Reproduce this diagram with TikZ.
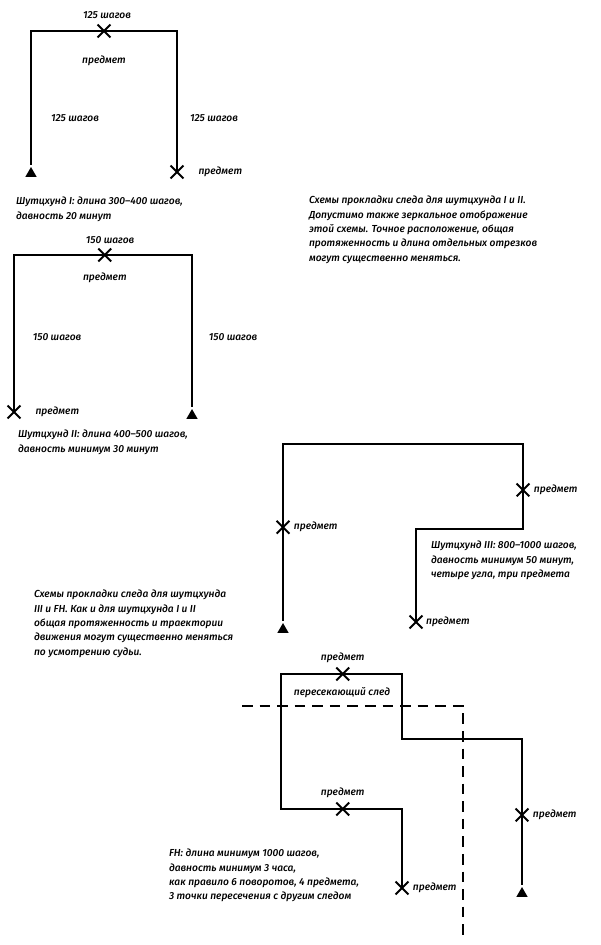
\documentclass[tikz,border=0pt]{standalone}
\usepackage{fontspec}
\setmainfont{Fira Sans}[ItalicFont={Fira Sans Medium Italic}]
\usetikzlibrary{positioning,shapes.misc,shapes.geometric}

\begin{document}
\begin{tikzpicture}[x=0.02cm,y=-0.02cm,line width=1.2pt,
    item mark/.style={cross out,draw,line width=1.1pt,minimum size=6.2pt,inner sep=0pt},
    start mark/.style={regular polygon,regular polygon sides=3,fill,inner sep=0pt,
                       minimum size=7.5pt,anchor=south},
    txt/.style={font=\itshape\fontsize{5.8}{8.2}\selectfont,inner sep=0pt},
    note/.style={txt,align=left,anchor=north west},
    other track/.style={dash pattern=on 6pt off 4pt}]

  \useasboundingbox (0,0) rectangle (600,945);

  \coordinate (1a) at (31,31);
  \coordinate (1b) at (177,31);
  \coordinate (1e) at (177,172);
  \node[start mark] (1s) at (31,178) {};
  \draw (1s) -- (1a) -- node[item mark] (1x) {} (1b) -- (1e) node[item mark] (1y) {};
  \node[txt] (1l1) at (107,15) {125 шагов};
  \node[txt,below=10pt of 1x] (1l2) {предмет};
  \node[txt] (1l3) at (75,118) {125 шагов};
  \node[txt] (1l4) at (214,118) {125 шагов};
  \node[txt,right=8pt of 1y] (1l5) {предмет};
  \node[note] (1c) at (15,196) {Шутцхунд I: длина 300–400 шагов,\\давность 20 минут};

  \coordinate (2a) at (14,255);
  \coordinate (2b) at (192,255);
  \coordinate (2e) at (14,412);
  \node[start mark] (2s) at (192,420) {};
  \draw (2e) node[item mark] (2y) {} -- (2a) -- node[item mark,pos=0.51] (2x) {} (2b) -- (2s);
  \node[txt] (2l1) at (110,240) {150 шагов};
  \node[txt,below=6pt of 2x] (2l2) {предмет};
  \node[txt] (2l3) at (57,337) {150 шагов};
  \node[txt] (2l4) at (233,337) {150 шагов};
  \node[txt,right=8pt of 2y] (2l5) {предмет};
  \node[note] (2c) at (17,429) {Шутцхунд II: длина 400–500 шагов,\\давность минимум 30 минут};

  \node[note] (n1) at (308,195) {Схемы прокладки следа для шутцхунда I и II.\\
    Допустимо также зеркальное отображение\\этой схемы. Точное расположение, общая\\
    протяженность и длина отдельных отрезков\\могут существенно меняться.};

  \coordinate (3a) at (283,444);
  \coordinate (3b) at (523,444);
  \coordinate (3c) at (523,529);
  \coordinate (3d) at (416,529);
  \coordinate (3e) at (416,622);
  \node[start mark] (3s) at (283,634) {};
  \draw (3s) -- node[item mark,pos=0.53] (3x) {} (3a) -- (3b)
    -- node[item mark,pos=0.54] (3y) {} (3c) -- (3d) -- (3e) node[item mark] (3z) {};
  \node[txt,right=2pt of 3x] (3l1) {предмет};
  \node[txt,right=2pt of 3y] (3l2) {предмет};
  \node[txt,right=1.5pt of 3z] (3l3) {предмет};
  \node[note] (3c) at (430,540) {Шутцхунд III: 800–1000 шагов,\\давность минимум 50 минут,\\
    четыре угла, три предмета};

  \node[note] (n2) at (33,589) {Схемы прокладки следа для шутцхунда\\III и FH. Как и для шутцхунда I и II\\
    общая протяженность и траектории\\движения могут существенно меняться\\по усмотрению судьи.};

  \coordinate (4a) at (281,674);
  \coordinate (4b) at (402,674);
  \coordinate (4c) at (402,739);
  \coordinate (4d) at (522,739);
  \coordinate (4e) at (281,809);
  \coordinate (4f) at (402,809);
  \coordinate (4g) at (402,888);
  \node[start mark] (4s) at (522,898) {};
  \draw (4s) -- node[item mark,pos=0.48] (4w) {} (4d) -- (4c) -- (4b)
    -- node[item mark,pos=0.49] (4x) {} (4a) -- (4e)
    -- node[item mark,pos=0.51] (4y) {} (4f) -- (4g) node[item mark] (4z) {};
  \node[txt,above=2pt of 4x] (4l1) {предмет};
  \node[txt] (4l2) at (342,693) {пересекающий след};
  \node[txt,above=2pt of 4y] (4l3) {предмет};
  \node[txt,right=2pt of 4w] (4l4) {предмет};
  \node[txt,right=2pt of 4z] (4l5) {предмет};
  \node[note] (4c) at (168,848) {FH: длина минимум 1000 шагов,\\давность минимум 3 часа,\\
    как правило 6 поворотов, 4 предмета,\\3 точки пересечения с другим следом};

  \coordinate (5a) at (242,706);
  \coordinate (5b) at (463,706);
  \coordinate (5c) at (463,940);
  \draw[other track] (5a) -- (5b) -- (5c);
\end{tikzpicture}
\end{document}
